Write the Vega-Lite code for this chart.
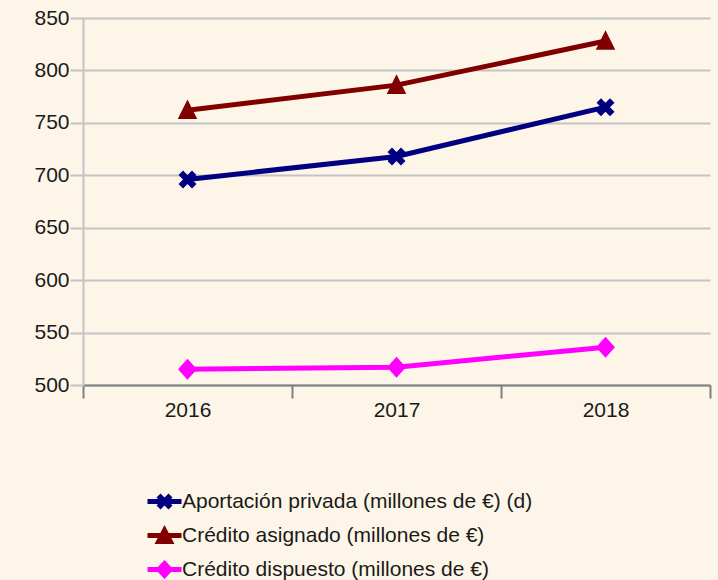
{
  "$schema": "https://vega.github.io/schema/vega-lite/v6.json",
  "width": 627,
  "height": 367,
  "autosize": {"type": "none"},
  "padding": {"left": 83, "top": 18, "right": 8, "bottom": 195},
  "background": "#fdf6e8",
  "config": {
    "view": {"stroke": null},
    "font": "Liberation Sans"
  },
  "data": {
    "values": [
      {"year": "2016", "series": "Aportación privada (millones de €) (d)", "value": 696},
      {"year": "2017", "series": "Aportación privada (millones de €) (d)", "value": 718},
      {"year": "2018", "series": "Aportación privada (millones de €) (d)", "value": 765},
      {"year": "2016", "series": "Crédito asignado (millones de €)", "value": 762},
      {"year": "2017", "series": "Crédito asignado (millones de €)", "value": 786},
      {"year": "2018", "series": "Crédito asignado (millones de €)", "value": 828},
      {"year": "2016", "series": "Crédito dispuesto (millones de €)", "value": 515},
      {"year": "2017", "series": "Crédito dispuesto (millones de €)", "value": 517},
      {"year": "2018", "series": "Crédito dispuesto (millones de €)", "value": 536}
    ]
  },
  "encoding": {
    "x": {
      "field": "year", "type": "ordinal", "bandPosition": 0.5,
      "scale": {"type": "band", "paddingInner": 0, "paddingOuter": 0},
      "axis": {
        "title": null, "labelAngle": 0, "tickBand": "extent",
        "labelFont": "Liberation Sans", "labelFontSize": 21, "labelColor": "#1a1a1a",
        "domainColor": "#808080", "domainWidth": 2,
        "tickColor": "#808080", "tickWidth": 2, "tickSize": 13,
        "labelPadding": 1, "grid": false
      }
    },
    "y": {
      "field": "value", "type": "quantitative",
      "scale": {"domain": [500, 850], "nice": false, "zero": false},
      "axis": {
        "title": null, "values": [500, 550, 600, 650, 700, 750, 800, 850],
        "labelFont": "Liberation Sans", "labelFontSize": 21, "labelColor": "#1a1a1a",
        "grid": true, "gridColor": "#c3c3c3", "gridWidth": 2,
        "domainColor": "#c3c3c3", "domainWidth": 2,
        "tickColor": "#c3c3c3", "tickWidth": 2, "tickSize": 13,
        "labelPadding": 1
      }
    }
  },
  "resolve": {"scale": {"color": "independent", "shape": "independent", "size": "independent"}},
  "layer": [
    {
      "mark": {"type": "line", "strokeWidth": 5},
      "encoding": {
        "color": {
          "field": "series", "type": "nominal", "legend": null,
          "scale": {
            "domain": ["Aportación privada (millones de €) (d)", "Crédito asignado (millones de €)", "Crédito dispuesto (millones de €)"],
            "range": ["#000080", "#800000", "#ff00ff"]
          }
        }
      }
    },
    {
      "mark": {"type": "point", "filled": true, "opacity": 1, "strokeWidth": 0},
      "encoding": {
        "color": {
          "field": "series", "type": "nominal", "legend": null,
          "scale": {
            "domain": ["Aportación privada (millones de €) (d)", "Crédito asignado (millones de €)", "Crédito dispuesto (millones de €)"],
            "range": ["#000080", "#800000", "#ff00ff"]
          }
        },
        "shape": {
          "field": "series", "type": "nominal", "legend": null,
          "scale": {
            "domain": ["Aportación privada (millones de €) (d)", "Crédito asignado (millones de €)", "Crédito dispuesto (millones de €)"],
            "range": ["M-1,-0.5L-0.5,-1L0,-0.5L0.5,-1L1,-0.5L0.5,0L1,0.5L0.5,1L0,0.5L-0.5,1L-1,0.5L-0.5,0Z", "M0,-1.1L1,0.9L-1,0.9Z", "M0,-1L0.9,0L0,1L-0.9,0Z"]
          }
        },
        "size": {
          "field": "series", "type": "nominal", "legend": null,
          "scale": {
            "domain": ["Aportación privada (millones de €) (d)", "Crédito asignado (millones de €)", "Crédito dispuesto (millones de €)"],
            "range": [324, 441, 400]
          }
        }
      }
    },
    {
      "mark": {"type": "point", "filled": true, "opacity": 0, "strokeWidth": 0},
      "encoding": {
        "color": {
          "field": "series", "type": "nominal",
          "scale": {
            "domain": ["Aportación privada (millones de €) (d)", "Crédito asignado (millones de €)", "Crédito dispuesto (millones de €)"],
            "range": ["#000080", "#800000", "#ff00ff"]
          },
          "legend": {
            "title": null, "orient": "none", "legendX": 71, "legendY": 473,
            "direction": "vertical", "padding": 0,
            "symbolSize": 100, "symbolStrokeWidth": 0, "symbolOpacity": 1,
            "labelFont": "Liberation Sans", "labelFontSize": 21, "labelColor": "#1a1a1a",
            "labelOffset": 7, "rowPadding": 12, "labelLimit": 600
          }
        },
        "shape": {
          "field": "series", "type": "nominal",
          "scale": {
            "domain": ["Aportación privada (millones de €) (d)", "Crédito asignado (millones de €)", "Crédito dispuesto (millones de €)"],
            "range": [
              "M-3.4,-0.5L3.4,-0.5L3.4,0.5L-3.4,0.5ZM-1.6,-0.8L-0.8,-1.6L0,-0.8L0.8,-1.6L1.6,-0.8L0.8,0L1.6,0.8L0.8,1.6L0,0.8L-0.8,1.6L-1.6,0.8L-0.8,0Z",
              "M-3.4,-0.5L3.4,-0.5L3.4,0.5L-3.4,0.5ZM0,-2.1L2,1.7L-2,1.7Z",
              "M-3.4,-0.5L3.4,-0.5L3.4,0.5L-3.4,0.5ZM0,-1.9L1.8,0L0,1.9L-1.8,0Z"
            ]
          },
          "legend": {
            "title": null, "orient": "none", "legendX": 71, "legendY": 473,
            "direction": "vertical", "padding": 0,
            "symbolSize": 100, "symbolStrokeWidth": 0, "symbolOpacity": 1,
            "labelFont": "Liberation Sans", "labelFontSize": 21, "labelColor": "#1a1a1a",
            "labelOffset": 7, "rowPadding": 12, "labelLimit": 600
          }
        }
      }
    }
  ]
}
